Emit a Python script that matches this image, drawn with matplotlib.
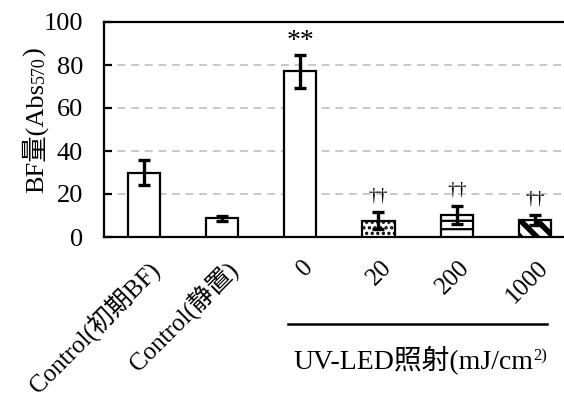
import numpy as np
import matplotlib
matplotlib.use("Agg")
import matplotlib.pyplot as plt
import matplotlib.transforms as mtransforms
from matplotlib.lines import Line2D

plt.rcParams['font.family'] = ['Liberation Serif', 'Noto Sans CJK JP']
plt.rcParams['font.size'] = 19

# data
labels = ['Control(初期BF)', 'Control(静置)', '0', '20', '200', '1000']
values = [29.9, 8.8, 77.0, 7.6, 10.2, 7.9]
errors = [5.9, 1.2, 7.6, 4.0, 4.2, 2.5]
marks = ['', '', '**', '††', '††', '††']
group_label = 'UV-LED照射(mJ/cm'
group_sup = '2)'
ylabel_main = 'BF量(Abs'
ylabel_sub = '570'

hatches = [None, None, None, '...', '--', '\\\\']
hatch_lw = [1.0, 1.0, 1.0, 1.6, 1.6, 4.0]

fig = plt.figure(figsize=(5.64, 3.99), dpi=100)
ax = fig.add_axes([104 / 564, 162 / 399, 470 / 564, 215 / 399])

x = np.arange(len(values))
for i in range(len(values)):
    b = ax.bar(x[i], values[i], width=0.41, color='white', edgecolor='black',
               linewidth=1.6, hatch=hatches[i], zorder=3)
    for p in b:
        if hasattr(p, 'set_hatch_linewidth'):
            p.set_hatch_linewidth(hatch_lw[i])
ax.errorbar(x, values, yerr=errors, fmt='none', ecolor='black', elinewidth=2.4,
            capsize=4.5, capthick=2.4, zorder=4)

for i in range(len(values)):
    if marks[i] == '**':
        ax.text(x[i], values[i] + errors[i] + 0.5, marks[i], ha='center', va='bottom', fontsize=20)
    elif marks[i]:
        ax.text(x[i], values[i] + errors[i] + 3.5, marks[i], ha='center', va='bottom', fontsize=14)

ax.set_xlim(-0.51, 5.5)
ax.set_ylim(0, 100)
ax.set_yticks([0, 20, 40, 60, 80, 100])
ax.yaxis.grid(True, color='#c8c8c8', linestyle=(0, (4, 3)), linewidth=1.4, zorder=0)
ax.set_axisbelow(True)
for s in ['left', 'bottom', 'top']:
    ax.spines[s].set_linewidth(1.6)
ax.spines['right'].set_visible(False)
ax.tick_params(axis='y', direction='in', length=6, width=1.6, pad=15)
ax.tick_params(axis='x', length=0, pad=14, labelsize=18)
ax.set_xticks(x)
ax.set_xticklabels(labels, rotation=45, ha='right', rotation_mode='anchor')
for lab in ax.get_xticklabels():
    lab.set_transform(lab.get_transform() + mtransforms.ScaledTranslation(2 / 100, 0, fig.dpi_scale_trans))

# y label with subscript
t1 = fig.text(0.062, 0.516, ylabel_main, rotation=90, ha='center', va='bottom')
sub = ax.annotate(ylabel_sub, xy=(1, 1), xycoords=t1, ha='right', va='bottom',
                  rotation=90, fontsize=13, annotation_clip=False)
ax.annotate(')', xy=(0.5, 1), xycoords=(t1, sub), ha='center', va='bottom',
            rotation=90, annotation_clip=False)

# group line and label under the UV-LED bars
trans = mtransforms.blended_transform_factory(ax.transData, ax.transAxes)
ax.add_line(Line2D([1.84, 5.15], [-0.405, -0.405], transform=trans, color='black',
                   linewidth=1.8, clip_on=False))
g = ax.text(3.45, -0.575, group_label, transform=trans, ha='center', va='center', fontsize=20)
ax.annotate(group_sup, xy=(1, 0.92), xycoords=g, ha='left', va='top', fontsize=12,
            annotation_clip=False)

fig.savefig('out.png', dpi=100)
